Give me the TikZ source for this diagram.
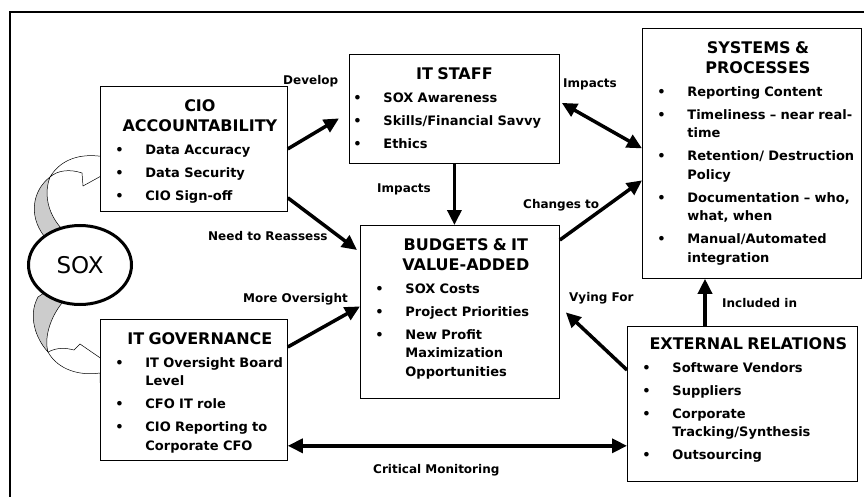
\documentclass[tikz,border=0pt]{standalone}
\usepackage{fontspec}
\setmainfont{DejaVu Sans}
\usetikzlibrary{positioning,arrows.meta,shapes.geometric}
\newcommand{\hd}[2][12pt]{{\centering\leftskip=#1 plus 1fil\fontsize{16}{20}\selectfont\bfseries #2\par}}
\newcommand{\itm}[2][0pt]{{\par\raggedright\let\\\newline\hangindent=\dimexpr45pt+(#1)\relax\hangafter=1\noindent\hspace*{\dimexpr15pt+(#1)\relax}\makebox[30pt][l]{\textbullet}#2\par}}
\tikzset{
    block/.style={draw,line width=0.8pt,fill=white,inner sep=0pt,anchor=north west,text height=25pt,font=\fontsize{13}{18.5}\selectfont\bfseries},
    arrow/.style={-{Triangle[length=15pt,width=14pt]},line width=3.5pt},
    twoway/.style={{Triangle[length=15pt,width=14pt]}-{Triangle[length=15pt,width=14pt]},line width=3.5pt},
    lbl/.style={font=\fontsize{12}{14}\selectfont\bfseries,inner sep=0pt,anchor=base west},
    curl/.style={draw=black,line width=0.5pt}
}

\begin{document}
\begin{tikzpicture}[x=1pt,y=-1pt]
  \useasboundingbox (0,0) rectangle (864,497);
  \draw[line width=2pt] (10,510) -- (10,12) -- (880,12);

  % SOX and its two curled arrows
  \fill[curl,fill=gray!40] (44,236) -- (50,241) -- (61,228) .. controls (47,212) and (44,193) .. (50,177) .. controls (33,190) and (28,215) .. (44,236);
  \fill[curl,fill=white] (50,177) .. controls (62,157) and (85,152) .. (110,158) -- (112,170) -- (83,186) -- (82,173) .. controls (70,169) and (58,170) .. (50,177);
  \fill[curl,fill=gray!40] (38,297) -- (50,289) -- (62,303) .. controls (50,318) and (44,338) .. (48,352) .. controls (35,338) and (28,315) .. (38,297);
  \fill[curl,fill=white] (48,352) .. controls (58,347) and (66,348) .. (74,350) -- (80,344) -- (112,366) -- (100,382) -- (100,373) .. controls (80,376) and (58,370) .. (48,352);
  \node[ellipse,draw,line width=3pt,fill=white,minimum width=103pt,minimum height=79pt,inner sep=0pt,font=\fontsize{23}{27}\selectfont] (sox) at (80,265) {SOX};

  \node[block,text width=187pt,text depth=100pt] (cio) at (100,86) {\hd{CIO\\ACCOUNTABILITY}\setlength\parskip{4.5pt}\itm{Data Accuracy}\itm{Data Security}\itm{CIO Sign-off}};
  \node[block,text width=210pt,text depth=84pt] (staff) at (349,54) {\hd[0pt]{IT STAFF}\setlength\parskip{4.5pt}\itm[-11pt]{SOX Awareness}\itm[-11pt]{Skills/Financial Savvy}\itm[-11pt]{Ethics}};
  \node[block,text width=219pt,text depth=225pt] (sys) at (642,28) {\hd{SYSTEMS \&\\PROCESSES}\setlength\parskip{4.5pt}\itm{Reporting Content}\itm{Timeliness – near real-\\time}\itm{Retention/ Destruction\\Policy}\itm{Documentation – who,\\what, when}\itm{Manual/Automated\\integration}};
  \node[block,text width=199pt,text depth=148pt] (budget) at (360,225) {\hd{BUDGETS \& IT\\VALUE-ADDED}\setlength\parskip{4.5pt}\itm{SOX Costs}\itm{Project Priorities}\itm{New Profit\\Maximization\\Opportunities}};
  \node[block,text width=187pt,text depth=116pt] (gov) at (100,319) {\hd{IT GOVERNANCE}\setlength\parskip{4.5pt}\itm{IT Oversight Board\\Level}\itm{CFO IT role}\itm{CIO Reporting to\\Corporate CFO}};
  \node[block,text width=230pt,text height=23pt,text depth=132pt] (ext) at (627,326) {\hd{EXTERNAL RELATIONS}\setlength\parskip{4.5pt}\itm{Software Vendors}\itm{Suppliers}\itm{Corporate\\Tracking/Synthesis}\itm{Outsourcing}};

  \draw[arrow] (cio.east) -- ([shift={(-10,9.5)}]staff.west);
  \draw[arrow] ([shift={(0,-14)}]cio.south east) -- ([shift={(-3,25)}]budget.north west);
  \draw[arrow] (staff.south) -- (staff.south |- budget.north);
  \draw[arrow] ([shift={(0,15)}]budget.north east) -- ([shift={(0,27)}]sys.west);
  \draw[twoway] ([shift={(2,-6)}]staff.east) -- ([shift={(0,-5)}]sys.west);
  \draw[arrow] ([shift={(0,28)}]gov.north east) -- ([shift={(0,-5.5)}]budget.west);
  \draw[arrow] ([shift={(0,44)}]ext.north west) -- ([shift={(6,0.5)}]budget.east);
  \coordinate (inc) at ([shift={(78,0)}]ext.north west);
  \draw[arrow] (inc) -- (inc |- sys.south);
  \coordinate (mon) at ([shift={(0,-15)}]gov.south east);
  \draw[twoway] (mon) -- (mon -| ext.west);

  \node[lbl] (dev) at (283,85) {Develop};
  \node[lbl] (reas) at (208,240) {Need to Reassess};
  \node[lbl] (imp1) at (377,193) {Impacts};
  \node[lbl] (chg) at (523,208) {Changes to};
  \node[lbl] (imp2) at (563,88) {Impacts};
  \node[lbl] (ovs) at (243,302) {More Oversight};
  \node[lbl] (vy) at (569,301) {Vying For};
  \node[lbl] (incl) at (722,307) {Included in};
  \node[lbl] (crit) at (373,473) {Critical Monitoring};
\end{tikzpicture}
\end{document}
